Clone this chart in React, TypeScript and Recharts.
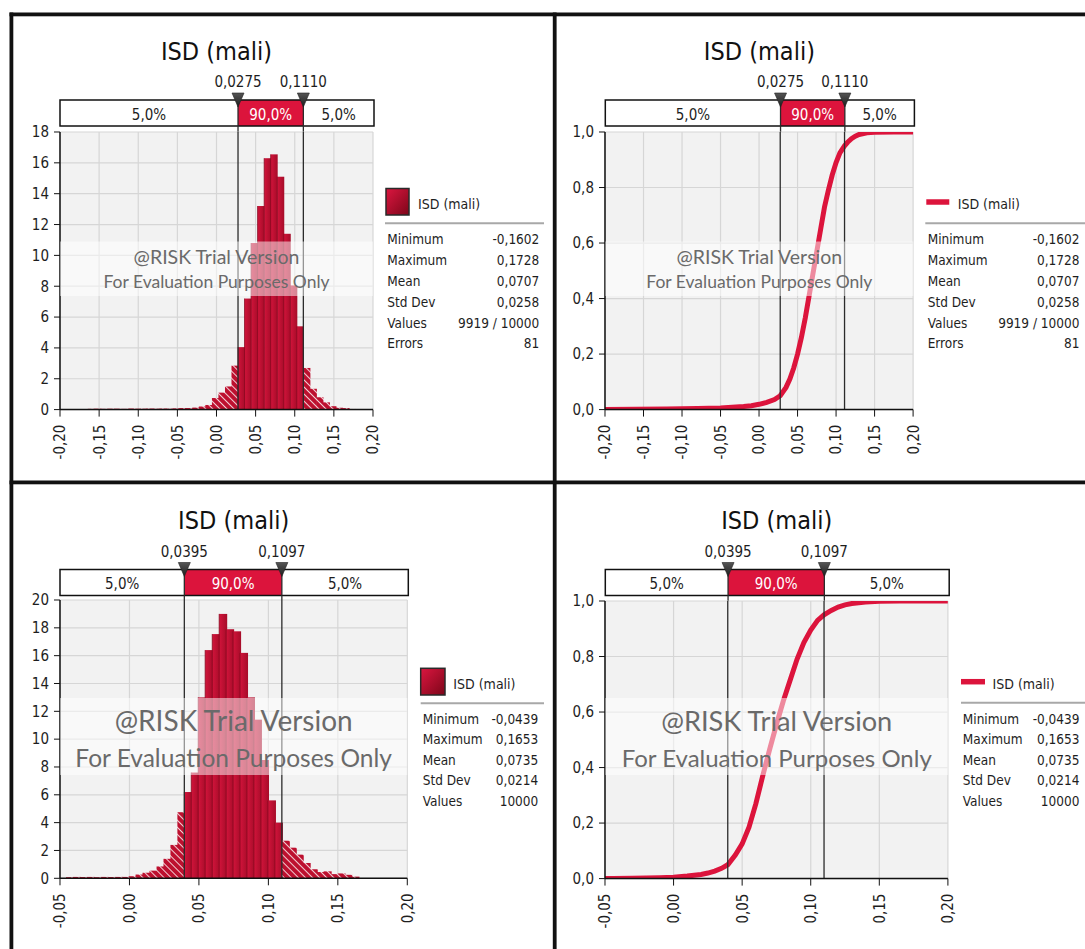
import React from "react";
import {
  BarChart,
  Bar,
  Cell,
  LineChart,
  Line,
  XAxis,
  YAxis,
  CartesianGrid,
  ReferenceLine,
} from "recharts";

const FONT = "'DejaVu Sans Condensed', 'DejaVu Sans', sans-serif";
const WM_FONT = "Lato, 'Open Sans', sans-serif";
const RED = "#dc143c";
const INK = "#1e1e1e";

const seriesName = "ISD (mali)";
const statLabels = ["Minimum", "Maximum", "Mean", "Std Dev", "Values", "Errors"];
const bandPct = ["5,0%", "90,0%", "5,0%"];
const wmLines = ["@RISK Trial Version", "For Evaluation Purposes Only"];

// first run (top row)
const binMid1 = [
  -0.1604, -0.152, -0.1437, -0.1353, -0.127, -0.1186, -0.1103, -0.1019, -0.0936, -0.0852,
  -0.0769, -0.0685, -0.0602, -0.0518, -0.0435, -0.0351, -0.0268, -0.0184, -0.0101, -0.0017,
  0.0066, 0.015, 0.0233, 0.0317, 0.04, 0.0484, 0.0567, 0.0651, 0.0734, 0.0818,
  0.0901, 0.0985, 0.1068, 0.1152, 0.1235, 0.1319, 0.1402, 0.1486, 0.1569, 0.1653, 0.1736,
];
const density1 = [
  0.05, 0.06, 0.05, 0.06, 0.06, 0.05, 0.07, 0.06, 0.06, 0.07,
  0.06, 0.07, 0.06, 0.08, 0.1, 0.1, 0.13, 0.2, 0.3, 0.75,
  1.1, 1.5, 2.85, 4.05, 7.2, 10.8, 13.2, 16.3, 16.55, 15.1,
  11.4, 8.05, 5.4, 2.7, 1.35, 0.8, 0.47, 0.22, 0.12, 0.1, 0.04,
];
const cdfX1 = [
  -0.2, -0.16, -0.12, -0.08, -0.05, -0.03, -0.02, -0.01, 0, 0.01, 0.02, 0.0275,
  0.035, 0.04, 0.045, 0.05, 0.055, 0.06, 0.065, 0.07, 0.075, 0.08, 0.085, 0.09,
  0.095, 0.1, 0.105, 0.111, 0.115, 0.12, 0.125, 0.13, 0.14, 0.15, 0.175, 0.2,
];
const cdfP1 = [
  0, 0.001, 0.002, 0.004, 0.006, 0.009, 0.011, 0.014, 0.019, 0.026, 0.036, 0.05,
  0.08, 0.11, 0.15, 0.2, 0.26, 0.33, 0.41, 0.49, 0.57, 0.65, 0.73, 0.79,
  0.845, 0.89, 0.925, 0.95, 0.963, 0.976, 0.985, 0.991, 0.997, 0.999, 1, 1,
];
const cuts1 = [0.0275, 0.111];
const stats1 = ["-0,1602", "0,1728", "0,0707", "0,0258", "9919 / 10000", "81"];

// second run (bottom row)
const binMid2 = [
  -0.0432, -0.0382, -0.0332, -0.0282, -0.0232, -0.0182, -0.0131, -0.0081, -0.0031, 0.0019,
  0.0069, 0.0119, 0.0169, 0.022, 0.027, 0.032, 0.037, 0.042, 0.047, 0.052,
  0.057, 0.0621, 0.0671, 0.0721, 0.0771, 0.0821, 0.0871, 0.0921, 0.0972, 0.1022,
  0.1072, 0.1122, 0.1172, 0.1222, 0.1272, 0.1323, 0.1373, 0.1423, 0.1473, 0.1523,
  0.1573, 0.1623,
];
const density2 = [
  0.08, 0.1, 0.09, 0.1, 0.08, 0.1, 0.09, 0.1, 0.1, 0.15,
  0.27, 0.4, 0.55, 0.85, 1.4, 2.4, 4.75, 6.2, 7.6, 13.0,
  16.4, 17.55, 19.0, 17.9, 17.75, 16.2, 13.0, 11.4, 8.5, 5.6,
  4.0, 2.7, 2.2, 1.7, 1.1, 0.65, 0.45, 0.5, 0.3, 0.35,
  0.25, 0.12,
];
const cdfX2 = [
  -0.05, -0.044, -0.03, -0.01, 0, 0.01, 0.02, 0.025, 0.03, 0.035, 0.0395,
  0.045, 0.05, 0.055, 0.06, 0.065, 0.07, 0.075, 0.08, 0.085, 0.09, 0.095,
  0.1, 0.105, 0.1097, 0.115, 0.12, 0.125, 0.13, 0.14, 0.15, 0.165, 0.2,
];
const cdfP2 = [
  0, 0, 0.001, 0.003, 0.005, 0.009, 0.015, 0.02, 0.027, 0.037, 0.05,
  0.085, 0.125, 0.185, 0.27, 0.37, 0.465, 0.555, 0.64, 0.715, 0.79, 0.85,
  0.895, 0.93, 0.95, 0.966, 0.978, 0.986, 0.991, 0.996, 0.999, 1, 1,
];
const cuts2 = [0.0395, 0.1097];
const stats2 = ["-0,0439", "0,1653", "0,0735", "0,0214", "10000"];

const xTicksWide = [-0.2, -0.15, -0.1, -0.05, 0, 0.05, 0.1, 0.15, 0.2];
const xTicksNarrow = [-0.05, 0, 0.05, 0.1, 0.15, 0.2];
const yTicks18 = [0, 2, 4, 6, 8, 10, 12, 14, 16, 18];
const yTicks20 = [0, 2, 4, 6, 8, 10, 12, 14, 16, 18, 20];
const yTicksCdf = [0, 0.2, 0.4, 0.6, 0.8, 1];

const fmt2 = (v: number) => v.toFixed(2).replace(".", ",");
const fmt1 = (v: number) => v.toFixed(1).replace(".", ",");
const fmt4 = (v: number) => v.toFixed(4).replace(".", ",");

type Rect = { l: number; r: number; t: number; b: number };
type Panel = {
  id: string;
  kind: "hist" | "cdf";
  plot: Rect;
  xDomain: [number, number];
  xTicks: number[];
  yDomain: [number, number];
  yTicks: number[];
  cuts: number[];
  bandTop: number;
  wm: { top: number; bottom: number; s1: number; y1: number; s2: number; y2: number };
  leg: any;
  stats: string[];
  hist?: { x: number; v: number }[];
  cdf?: { x: number; p: number }[];
};

const panels: Panel[] = [
  {
    id: "p1",
    kind: "hist",
    plot: { l: 60, r: 373, t: 131.7, b: 409.3 },
    xDomain: [-0.2, 0.2],
    xTicks: xTicksWide,
    yDomain: [0, 18],
    yTicks: yTicks18,
    cuts: cuts1,
    bandTop: 100,
    wm: { top: 241.5, bottom: 296, s1: 19.5, y1: 263.5, s2: 17.5, y2: 288 },
    leg: { sx: 386, sy: 188.5, sw: 23, sh: 26.5, tx: 418, ty: 208.5, sepL: 385, sepR: 544, sepY: 223.3, lx: 387.3, vr: 539.3, r0: 244.3, step: 20.8 },
    stats: stats1,
    hist: binMid1.map((x, i) => ({ x, v: density1[i] })),
  },
  {
    id: "p2",
    kind: "cdf",
    plot: { l: 605.3, r: 913.4, t: 131.7, b: 409.3 },
    xDomain: [-0.2, 0.2],
    xTicks: xTicksWide,
    yDomain: [0, 1],
    yTicks: yTicksCdf,
    cuts: cuts1,
    bandTop: 100,
    wm: { top: 241.5, bottom: 296, s1: 19.5, y1: 263.5, s2: 17.5, y2: 288 },
    leg: { sx: 926.3, sy: 202, sw: 23, tx: 957.7, ty: 208.5, sepL: 925.3, sepR: 1085, sepY: 223.3, lx: 927.7, vr: 1079.5, r0: 244.3, step: 20.8 },
    stats: stats1,
    cdf: cdfX1.map((x, i) => ({ x, p: cdfP1[i] })),
  },
  {
    id: "p3",
    kind: "hist",
    plot: { l: 60, r: 407.3, t: 600, b: 878.3 },
    xDomain: [-0.05, 0.2],
    xTicks: xTicksNarrow,
    yDomain: [0, 20],
    yTicks: yTicks20,
    cuts: cuts2,
    bandTop: 569.5,
    wm: { top: 698, bottom: 775, s1: 28, y1: 730.5, s2: 24.5, y2: 767 },
    leg: { sx: 420.7, sy: 668.3, sw: 24.3, sh: 26.7, tx: 453.3, ty: 688.5, sepL: 420.7, sepR: 544, sepY: 703.3, lx: 422.7, vr: 538.3, r0: 724, step: 20.4 },
    stats: stats2,
    hist: binMid2.map((x, i) => ({ x, v: density2[i] })),
  },
  {
    id: "p4",
    kind: "cdf",
    plot: { l: 605.3, r: 948.2, t: 600.7, b: 878.3 },
    xDomain: [-0.05, 0.2],
    xTicks: xTicksNarrow,
    yDomain: [0, 1],
    yTicks: yTicksCdf,
    cuts: cuts2,
    bandTop: 569.5,
    wm: { top: 698, bottom: 775, s1: 27.2, y1: 730.5, s2: 24, y2: 767 },
    leg: { sx: 961, sy: 681.7, sw: 24, tx: 992.5, ty: 688.5, sepL: 961, sepR: 1085, sepY: 702.7, lx: 962.8, vr: 1079.5, r0: 723.5, step: 20.5 },
    stats: stats2,
    cdf: cdfX2.map((x, i) => ({ x, p: cdfP2[i] })),
  },
];

const XTick = (props: any) => {
  const { x, y, payload } = props;
  return (
    <text
      transform={`translate(${x},${y + 6}) rotate(-90)`}
      textAnchor="end"
      dy="0.36em"
      fontSize={15}
      fill={INK}
      fontFamily={FONT}
    >
      {fmt2(payload.value)}
    </text>
  );
};

// widen each bar a hair so the floored widths leave no gaps
const HistBar = (props: any) => {
  const { x, y, width, height, fill } = props;
  if (!height || height <= 0) return null;
  const solid = String(fill).includes("barGrad");
  return (
    <g>
      <rect x={x} y={y} width={width + 1} height={height} fill={fill} />
      {solid && <line x1={x} x2={x} y1={y} y2={y + height} stroke="#86091f" strokeWidth={0.8} />}
    </g>
  );
};

function PanelChart({ cfg }: { cfg: Panel }) {
  const { plot } = cfg;
  const left = plot.l - 50;
  const top = plot.t - 10;
  const width = plot.r - left + 10;
  const height = plot.b - top + 70;
  const margin = { top: 10, right: 10, bottom: 0, left: 0 };
  const axisStyle = { stroke: "#111", strokeWidth: 1.5 };
  const yFmt = cfg.kind === "cdf" ? fmt1 : (v: number) => String(v);

  const grid = <CartesianGrid fill="#f2f2f2" fillOpacity={1} stroke="#d6d6d6" strokeWidth={1.2} />;
  const xAxis = (
    <XAxis
      type="number"
      dataKey="x"
      domain={cfg.xDomain}
      ticks={cfg.xTicks}
      interval={0}
      allowDataOverflow
      height={70}
      tickSize={7}
      axisLine={axisStyle}
      tickLine={{ stroke: "#111" }}
      tick={<XTick />}
    />
  );
  const yAxis = (
    <YAxis
      type="number"
      domain={cfg.yDomain}
      ticks={cfg.yTicks}
      interval={0}
      allowDataOverflow
      width={50}
      tickSize={6}
      tickMargin={5}
      axisLine={axisStyle}
      tickLine={{ stroke: "#111" }}
      tick={{ fontSize: 15, fill: INK, fontFamily: FONT }}
      tickFormatter={yFmt}
    />
  );

  return (
    <div style={{ position: "absolute", left, top, width, height, zIndex: 1 }}>
      {cfg.kind === "hist" ? (
        <BarChart width={width} height={height} data={cfg.hist} margin={margin} barCategoryGap={0} barGap={0}>
          {grid}
          {xAxis}
          {yAxis}
          <Bar dataKey="v" isAnimationActive={false} shape={HistBar}>
            {cfg.hist!.map((d, i) => (
              <Cell
                key={i}
                fill={d.x < cfg.cuts[0] || d.x > cfg.cuts[1] ? "url(#hatch)" : "url(#barGrad)"}
              />
            ))}
          </Bar>
          {cfg.cuts.map((c) => (
            <ReferenceLine key={c} x={c} stroke="#2b2b2b" strokeWidth={1.3} />
          ))}
        </BarChart>
      ) : (
        <LineChart width={width} height={height} data={cfg.cdf} margin={margin}>
          {grid}
          {xAxis}
          {yAxis}
          <Line
            type="linear"
            dataKey="p"
            stroke={RED}
            strokeWidth={5}
            dot={false}
            isAnimationActive={false}
          />
          {cfg.cuts.map((c) => (
            <ReferenceLine key={c} x={c} stroke="#2b2b2b" strokeWidth={1.3} />
          ))}
        </LineChart>
      )}
    </div>
  );
}

function Annotations({ cfg }: { cfg: Panel }) {
  const { plot, xDomain, cuts, bandTop, wm, leg } = cfg;
  const sx = (v: number) =>
    plot.l + ((v - xDomain[0]) / (xDomain[1] - xDomain[0])) * (plot.r - plot.l);
  const boxL = plot.l;
  const boxR = plot.r + 1;
  const bh = 26;
  const c0 = sx(cuts[0]);
  const c1 = sx(cuts[1]);
  const mid = (plot.l + plot.r) / 2;
  const pctX = [(boxL + c0) / 2, (c0 + c1) / 2, (c1 + boxR) / 2];

  return (
    <g fontFamily={FONT}>
      <text x={mid} y={bandTop - 40.5} textAnchor="middle" fontSize={25} fill="#111">
        {seriesName}
      </text>
      {cuts.map((c, i) => (
        <text key={i} x={sx(c)} y={bandTop - 13} textAnchor="middle" fontSize={15} fill={INK}>
          {fmt4(c)}
        </text>
      ))}
      <rect x={boxL} y={bandTop} width={boxR - boxL} height={bh} fill="#fff" />
      <rect x={c0} y={bandTop} width={c1 - c0} height={bh} fill={RED} />
      <rect x={boxL} y={bandTop} width={boxR - boxL} height={bh} fill="none" stroke="#111" strokeWidth={1.5} />
      {[c0, c1].map((x, i) => (
        <line key={i} x1={x} x2={x} y1={bandTop} y2={plot.t} stroke="#2b2b2b" strokeWidth={1.3} />
      ))}
      {bandPct.map((t, i) => (
        <text
          key={i}
          x={pctX[i]}
          y={bandTop + 19.5}
          textAnchor="middle"
          fontSize={15}
          fill={i === 1 ? "#fff" : INK}
        >
          {t}
        </text>
      ))}
      {[c0, c1].map((x, i) => (
        <polygon
          key={i}
          points={`${x - 6},${bandTop - 7} ${x + 6},${bandTop - 7} ${x},${bandTop + 7}`}
          fill="url(#markGrad)"
          stroke="#222"
          strokeWidth={0.6}
        />
      ))}

      {/* watermark */}
      <rect x={plot.l} y={wm.top} width={plot.r - plot.l} height={wm.bottom - wm.top} fill="#fff" fillOpacity={0.5} />
      <text x={mid} y={wm.y1} textAnchor="middle" fontFamily={WM_FONT} fontSize={wm.s1} fill="#6a6a6a">
        {wmLines[0]}
      </text>
      <text x={mid} y={wm.y2} textAnchor="middle" fontFamily={WM_FONT} fontSize={wm.s2} fill="#6a6a6a">
        {wmLines[1]}
      </text>

      {/* legend + stats */}
      {cfg.kind === "hist" ? (
        <rect x={leg.sx} y={leg.sy} width={leg.sw} height={leg.sh} fill="url(#legGrad)" stroke="#2a2a2a" strokeWidth={1.5} />
      ) : (
        <line x1={leg.sx} x2={leg.sx + leg.sw} y1={leg.sy} y2={leg.sy} stroke={RED} strokeWidth={5.5} />
      )}
      <text x={leg.tx} y={leg.ty} fontSize={14} fill={INK}>
        {seriesName}
      </text>
      <line x1={leg.sepL} x2={leg.sepR} y1={leg.sepY} y2={leg.sepY} stroke="#a8a8a8" strokeWidth={2} />
      {cfg.stats.map((v, i) => (
        <g key={i}>
          <text x={leg.lx} y={leg.r0 + i * leg.step} fontSize={13.5} fill={INK}>
            {statLabels[i]}
          </text>
          <text x={leg.vr} y={leg.r0 + i * leg.step} textAnchor="end" fontSize={13.5} fill={INK}>
            {v}
          </text>
        </g>
      ))}
    </g>
  );
}

export default function App() {
  return (
    <div
      style={{
        position: "absolute",
        left: 0,
        top: 0,
        width: 1085,
        height: 949,
        background: "#fff",
        overflow: "hidden",
        fontFamily: FONT,
      }}
    >
      {panels.map((p) => (
        <PanelChart key={p.id} cfg={p} />
      ))}
      <svg
        width={1085}
        height={949}
        style={{ position: "absolute", left: 0, top: 0, zIndex: 2, pointerEvents: "none" }}
      >
        <defs>
          <linearGradient id="barGrad" x1="0" y1="0" x2="1" y2="0">
            <stop offset="0" stopColor="#d2143b" />
            <stop offset="1" stopColor="#a60c29" />
          </linearGradient>
          <pattern id="hatch" width="5" height="5" patternUnits="userSpaceOnUse" patternTransform="rotate(-45)">
            <rect width="5" height="5" fill="#bd102f" />
            <line x1="0" y1="0" x2="0" y2="5" stroke="#fff" strokeWidth="1.6" />
          </pattern>
          <linearGradient id="legGrad" x1="0" y1="0" x2="1" y2="1">
            <stop offset="0" stopColor="#dc1640" />
            <stop offset="1" stopColor="#7c0619" />
          </linearGradient>
          <linearGradient id="markGrad" x1="0" y1="0" x2="0" y2="1">
            <stop offset="0" stopColor="#555" />
            <stop offset="1" stopColor="#1c1c1c" />
          </linearGradient>
        </defs>
        {panels.map((p) => (
          <Annotations key={p.id} cfg={p} />
        ))}
        {/* frame */}
        <rect x={9.5} y={12.5} width={3.8} height={937} fill="#111" />
        <rect x={9.5} y={12.5} width={1076} height={3.8} fill="#111" />
        <rect x={9.5} y={480.5} width={1076} height={3.8} fill="#111" />
        <rect x={552.8} y={12.5} width={3.8} height={937} fill="#111" />
      </svg>
    </div>
  );
}
